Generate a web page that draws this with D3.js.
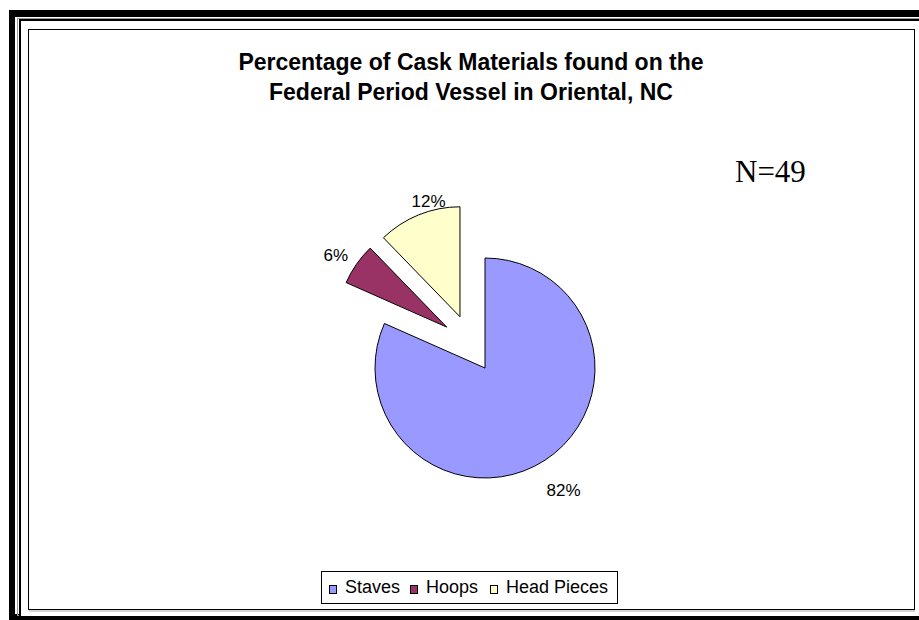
<!DOCTYPE html>
<html>
<head>
<meta charset="utf-8">
<script src="https://cdn.jsdelivr.net/npm/d3@7"></script>
<style>
  html, body { margin: 0; padding: 0; background: #fff; }
  svg { display: block; }
</style>
</head>
<body>
<svg id="chart" width="919" height="620"></svg>
<script>
// ---- data ----
const categories = ["Staves", "Hoops", "Head Pieces"];
const counts = [40, 3, 6];
const titleLines = ["Percentage of Cask Materials found on the", "Federal Period Vessel in Oriental, NC"];
const noteText = "N=49";

// ---- styles ----
const colors = ["#9999FF", "#993366", "#FFFFCC"];
const explodeDist = [0, 56, 57];
const explodeAngleShift = [0, 12, -4];   // degrees
const labelPad = [34, 23, 11];
const labelAngleShift = [0, -1.5, 7];    // degrees
const legendX = [329, 410, 490];

const svg = d3.select("#chart");
const rad = d => d * Math.PI / 180;

// outer frame (double line)
svg.append("rect").attr("x", 9).attr("y", 10).attr("width", 930).attr("height", 640).attr("fill", "#000");
svg.append("rect").attr("x", 15).attr("y", 17).attr("width", 930).attr("height", 597).attr("fill", "#fff");
svg.append("rect").attr("x", 17.5).attr("y", 18.5).attr("width", 930).attr("height", 597).attr("fill", "none").attr("stroke", "#999").attr("stroke-width", 1);
svg.append("rect").attr("x", 20).attr("y", 20).attr("width", 930).attr("height", 597).attr("fill", "none").attr("stroke", "#000").attr("stroke-width", 2);
svg.append("rect").attr("x", 21).attr("y", 21).attr("width", 930).attr("height", 595).attr("fill", "#fff");
svg.append("rect").attr("x", 19).attr("y", 617).attr("width", 910).attr("height", 3).attr("fill", "#000");

// inner chart area
svg.append("rect").attr("x", 28.5).attr("y", 29.5).attr("width", 886).attr("height", 580)
  .attr("fill", "#fff").attr("stroke", "#000").attr("stroke-width", 1);
svg.append("line").attr("x1", 29).attr("x2", 915).attr("y1", 611).attr("y2", 611).attr("stroke", "#aaa");

// title
const title = svg.append("text").attr("text-anchor", "middle")
  .style("font-family", "Arial, 'Liberation Sans', sans-serif").style("font-weight", "bold").style("font-size", "23px");
titleLines.forEach((t, i) => {
  title.append("tspan").attr("x", 471).attr("y", 70 + i * 30).text(t);
});

// N note
svg.append("text").attr("x", 735).attr("y", 182)
  .style("font-family", "'Times New Roman', 'Liberation Serif', serif").style("font-size", "31px").text(noteText);

// pie
const cx = 485, cy = 368, r = 110;
const total = d3.sum(counts);
const pie = d3.pie().sort(null).value(d => d)(counts);
const arc = d3.arc().innerRadius(0).outerRadius(r);
const g = svg.append("g").attr("transform", `translate(${cx},${cy})`);

pie.forEach((p, i) => {
  const mid = (p.startAngle + p.endAngle) / 2;
  const ea = mid + rad(explodeAngleShift[i]);
  const dx = Math.sin(ea) * explodeDist[i], dy = -Math.cos(ea) * explodeDist[i];
  const sg = g.append("g").attr("transform", `translate(${dx},${dy})`);
  sg.append("path").attr("d", arc(p)).attr("fill", colors[i]).attr("stroke", "#000").attr("stroke-width", 1);
  const L = r + labelPad[i];
  const la = mid + rad(labelAngleShift[i]);
  sg.append("text")
    .attr("x", Math.sin(la) * L).attr("y", -Math.cos(la) * L + 2)
    .attr("text-anchor", "middle").attr("dominant-baseline", "central")
    .style("font-family", "Arial, 'Liberation Sans', sans-serif").style("font-size", "17px")
    .text(Math.round(counts[i] / total * 100) + "%");
});

// legend
const lg = svg.append("g");
lg.append("rect").attr("x", 321.5).attr("y", 571.5).attr("width", 296).attr("height", 32)
  .attr("fill", "#fff").attr("stroke", "#000");
categories.forEach((c, i) => {
  lg.append("rect").attr("x", legendX[i] + 0.5).attr("y", 585.5).attr("width", 7).attr("height", 8)
    .attr("fill", colors[i]).attr("stroke", "#000");
  lg.append("text").attr("x", legendX[i] + 16).attr("y", 593)
    .style("font-family", "Arial, 'Liberation Sans', sans-serif").style("font-size", "18px").text(c);
});
</script>
</body>
</html>
